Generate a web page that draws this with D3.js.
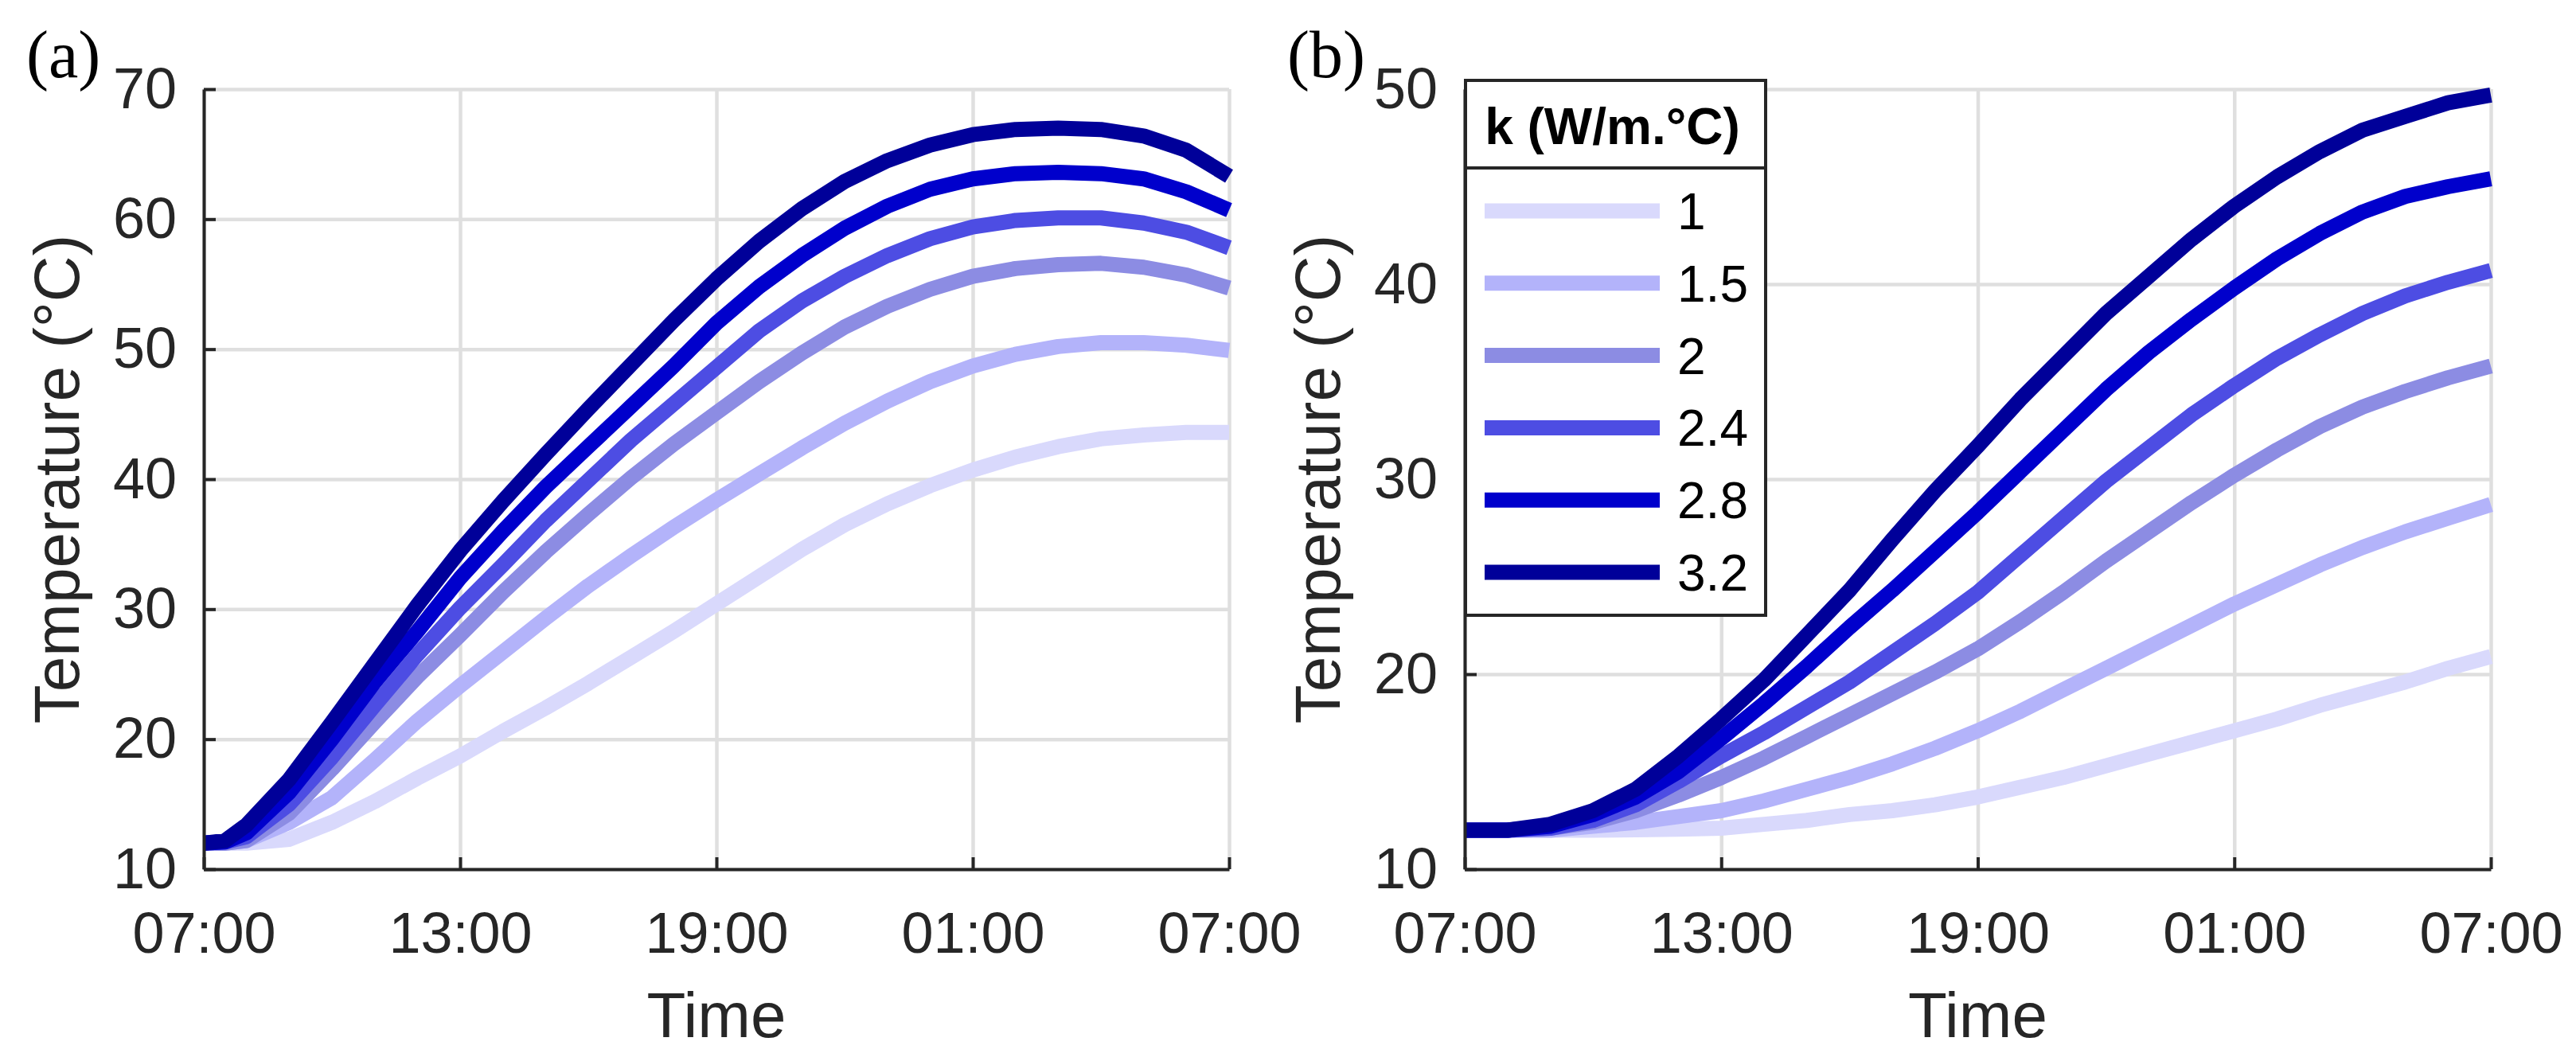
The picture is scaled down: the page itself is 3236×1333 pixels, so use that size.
<!DOCTYPE html>
<html>
<head>
<meta charset="utf-8">
<script src="https://cdn.jsdelivr.net/npm/d3@7"></script>
<style>
  body { margin: 0; background: #fff; }
  svg { display: block; }
  text { font-family: "Liberation Sans", Arial, Helvetica, sans-serif; }
</style>
</head>
<body>
<div id="chart"></div>
<script>
// hours after 07:00
const hours = [0, 0.5, 1, 2, 3, 4, 5, 6, 7, 8, 9, 10, 11, 12, 13, 14, 15, 16, 17, 18, 19, 20, 21, 22, 23, 24];
const kLabels = ["1", "1.5", "2", "2.4", "2.8", "3.2"];
const timeTicks = [0, 6, 12, 18, 24];
const timeLabels = ["07:00", "13:00", "19:00", "01:00", "07:00"];
const tempTicksA = [10, 20, 30, 40, 50, 60, 70];
const tempTicksB = [10, 20, 30, 40, 50];

// panel (a) temperatures (°C)
const tempA_k10 = [12.0, 12.0, 12.0, 12.3, 13.6, 15.2, 17.0, 18.7, 20.6, 22.4, 24.3, 26.3, 28.3, 30.4, 32.5, 34.6, 36.5, 38.1, 39.5, 40.7, 41.7, 42.5, 43.1, 43.4, 43.6, 43.6];
const tempA_k15 = [12.0, 12.0, 12.2, 13.6, 15.5, 18.4, 21.4, 24.1, 26.7, 29.3, 31.8, 34.1, 36.3, 38.4, 40.4, 42.4, 44.3, 46.0, 47.5, 48.7, 49.6, 50.2, 50.5, 50.5, 50.3, 49.9];
const tempA_k20 = [12.0, 12.0, 12.2, 14.3, 17.7, 21.3, 24.8, 28.0, 31.3, 34.4, 37.3, 40.1, 42.7, 45.1, 47.5, 49.7, 51.7, 53.3, 54.6, 55.6, 56.2, 56.5, 56.6, 56.3, 55.7, 54.7];
const tempA_k24 = [12.0, 12.1, 12.5, 15.0, 18.6, 22.6, 26.5, 30.1, 33.4, 36.8, 39.9, 43.0, 45.8, 48.6, 51.4, 53.7, 55.6, 57.2, 58.5, 59.4, 59.9, 60.1, 60.1, 59.7, 59.0, 57.8];
const tempA_k28 = [12.0, 12.1, 12.8, 15.9, 20.0, 24.4, 28.3, 32.4, 36.0, 39.4, 42.5, 45.6, 48.7, 52.0, 54.8, 57.2, 59.3, 61.0, 62.3, 63.1, 63.5, 63.6, 63.5, 63.1, 62.1, 60.7];
const tempA_k32 = [12.0, 12.2, 13.4, 16.9, 21.3, 25.8, 30.3, 34.5, 38.3, 41.9, 45.4, 48.8, 52.2, 55.4, 58.3, 60.8, 62.9, 64.5, 65.7, 66.5, 66.9, 67.0, 66.9, 66.4, 65.3, 63.3];

// panel (b) temperatures (°C)
const tempB_k10 = [12.0, 12.0, 12.0, 12.0, 12.0, 12.02, 12.05, 12.1, 12.3, 12.5, 12.8, 13.0, 13.3, 13.7, 14.2, 14.7, 15.3, 15.9, 16.5, 17.1, 17.7, 18.4, 19.0, 19.6, 20.3, 20.9];
const tempB_k15 = [12.0, 12.0, 12.0, 12.0, 12.2, 12.4, 12.7, 13.0, 13.5, 14.1, 14.7, 15.4, 16.2, 17.1, 18.1, 19.2, 20.3, 21.4, 22.5, 23.6, 24.6, 25.6, 26.5, 27.3, 28.0, 28.7];
const tempB_k20 = [12.0, 12.0, 12.0, 12.1, 12.4, 13.0, 13.8, 14.7, 15.7, 16.8, 17.9, 19.0, 20.1, 21.3, 22.7, 24.2, 25.8, 27.3, 28.8, 30.2, 31.5, 32.7, 33.7, 34.5, 35.2, 35.8];
const tempB_k24 = [12.0, 12.0, 12.0, 12.1, 12.5, 13.3, 14.5, 15.8, 17.0, 18.3, 19.6, 21.1, 22.6, 24.2, 26.1, 28.0, 29.9, 31.6, 33.3, 34.8, 36.2, 37.4, 38.5, 39.4, 40.1, 40.7];
const tempB_k28 = [12.0, 12.0, 12.0, 12.2, 12.8, 13.7, 15.0, 16.7, 18.5, 20.4, 22.4, 24.3, 26.3, 28.3, 30.4, 32.5, 34.6, 36.5, 38.2, 39.8, 41.3, 42.6, 43.7, 44.5, 45.0, 45.4];
const tempB_k32 = [12.0, 12.0, 12.0, 12.3, 13.0, 14.1, 15.8, 17.7, 19.7, 22.0, 24.3, 26.9, 29.4, 31.7, 34.1, 36.3, 38.5, 40.4, 42.3, 44.0, 45.5, 46.8, 47.9, 48.6, 49.3, 49.7];

const seriesA = [tempA_k10, tempA_k15, tempA_k20, tempA_k24, tempA_k28, tempA_k32];
const seriesB = [tempB_k10, tempB_k15, tempB_k20, tempB_k24, tempB_k28, tempB_k32];

const lineColors = ["#d9d9fc", "#b3b3fa", "#8c8ce3", "#4d4de3", "#0000cc", "#000099"];
const axisColor = "#262626";
const gridColor = "#dfdfdf";

const width = 3236;
const height = 1333;
const plotTop = 112, plotBottom = 1092;

const svg = d3.select("#chart")
  .append("svg")
  .attr("width", width)
  .attr("height", height)
  .style("background", "#fff");

function drawPanel(left, right, series, yDomain, yTicks, tag, withLegend) {
  const x = d3.scaleLinear().domain([0, 24]).range([left, right]);
  const y = d3.scaleLinear().domain(yDomain).range([plotBottom, plotTop]);

  // grid
  const gx = svg.append("g")
    .attr("transform", `translate(0, ${plotBottom})`)
    .call(d3.axisBottom(x).tickValues(timeTicks).tickSize(-(plotBottom - plotTop)).tickFormat(""));
  const gy = svg.append("g")
    .attr("transform", `translate(${left}, 0)`)
    .call(d3.axisLeft(y).tickValues(yTicks).tickSize(-(right - left)).tickFormat(""));
  [gx, gy].forEach(g => {
    g.select(".domain").remove();
    g.selectAll("line").attr("stroke", gridColor).attr("stroke-width", 4.5);
  });

  // curves
  const line = d3.line()
    .x((d, i) => x(hours[i]))
    .y(d => y(d));

  svg.append("g")
    .selectAll("path")
    .data(series)
    .enter()
    .append("path")
    .attr("d", line)
    .attr("fill", "none")
    .attr("stroke", (d, i) => lineColors[i])
    .attr("stroke-width", 19)
    .attr("stroke-linejoin", "round")
    .attr("stroke-linecap", "butt");

  // axes
  const xAxis = d3.axisBottom(x)
    .tickValues(timeTicks)
    .tickFormat((d, i) => timeLabels[i])
    .tickSize(-15)
    .tickSizeOuter(0)
    .tickPadding(54);
  const yAxis = d3.axisLeft(y)
    .tickValues(yTicks)
    .tickSize(-15)
    .tickSizeOuter(0)
    .tickPadding(34);

  const ax = svg.append("g")
    .attr("transform", `translate(0, ${plotBottom})`)
    .call(xAxis);
  const ay = svg.append("g")
    .attr("transform", `translate(${left}, 0)`)
    .call(yAxis);
  [ax, ay].forEach(g => {
    g.select(".domain").attr("stroke", axisColor).attr("stroke-width", 4);
    g.selectAll(".tick line").attr("stroke", axisColor).attr("stroke-width", 4);
    g.selectAll("text")
      .attr("fill", axisColor)
      .style("font-size", "72px")
      .style("font-family", "'Liberation Sans', Arial, sans-serif");
  });

  // axis labels
  svg.append("text")
    .attr("x", (left + right) / 2)
    .attr("y", 1303)
    .attr("text-anchor", "middle")
    .attr("fill", axisColor)
    .style("font-size", "80px")
    .text("Time");

  svg.append("text")
    .attr("transform", `translate(${left - 157}, ${(plotTop + plotBottom) / 2}) rotate(-90)`)
    .attr("text-anchor", "middle")
    .attr("fill", axisColor)
    .style("font-size", "80px")
    .text("Temperature (°C)");

  // panel tag
  svg.append("text")
    .attr("x", left - 223)
    .attr("y", 97)
    .attr("fill", "#000")
    .style("font-family", "'Liberation Serif', 'Times New Roman', serif")
    .style("font-size", "84px")
    .text(tag);

  if (withLegend) {
    const lg = svg.append("g").attr("transform", `translate(${left + 1}, 101)`);
    const lw = 377, lh = 672;
    lg.append("rect")
      .attr("width", lw)
      .attr("height", lh)
      .attr("fill", "#fff")
      .attr("stroke", axisColor)
      .attr("stroke-width", 4);
    lg.append("line")
      .attr("x1", 0).attr("x2", lw)
      .attr("y1", 110).attr("y2", 110)
      .attr("stroke", axisColor)
      .attr("stroke-width", 4);
    lg.append("text")
      .attr("x", lw / 2 - 4)
      .attr("y", 80)
      .attr("text-anchor", "middle")
      .attr("fill", "#000")
      .style("font-size", "64px")
      .style("font-weight", "bold")
      .text("k (W/m.°C)");

    const entries = lg.selectAll(".entry")
      .data(kLabels)
      .enter()
      .append("g")
      .attr("class", "entry")
      .attr("transform", (d, i) => `translate(0, ${164 + i * 90.8})`);
    entries.append("line")
      .attr("x1", 24).attr("x2", 244)
      .attr("stroke", (d, i) => lineColors[i])
      .attr("stroke-width", 19);
    entries.append("text")
      .attr("x", 266)
      .attr("dy", "0.36em")
      .attr("fill", "#000")
      .style("font-size", "64px")
      .text(d => d);
  }
}

drawPanel(256, 1544, seriesA, [10, 70], tempTicksA, "(a)", false);
drawPanel(1840, 3129, seriesB, [10, 50], tempTicksB, "(b)", true);
</script>
</body>
</html>
